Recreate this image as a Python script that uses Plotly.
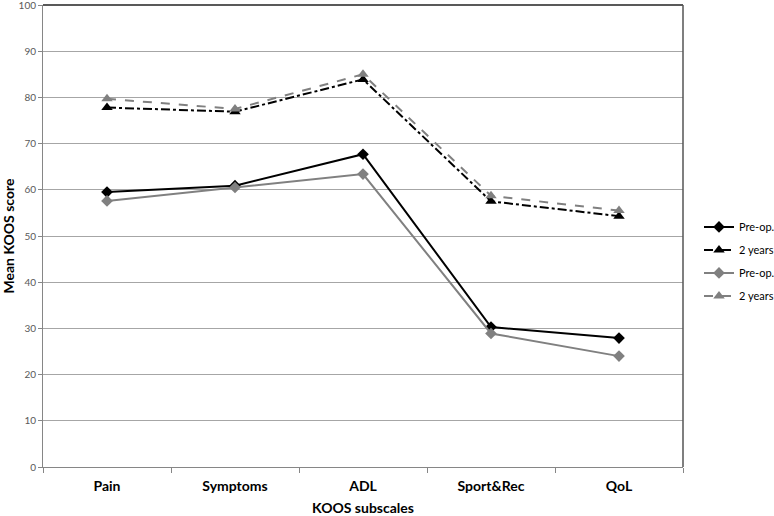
import plotly.graph_objects as go

categories = ["Pain", "Symptoms", "ADL", "Sport&Rec", "QoL"]
preop_a = [59.5, 60.9, 67.7, 30.3, 27.9]
twoyr_a = [77.8, 76.9, 83.9, 57.5, 54.3]
preop_b = [57.6, 60.5, 63.4, 28.9, 24.0]
twoyr_b = [79.7, 77.5, 85.0, 58.7, 55.5]
series_names = ["Pre-op.", "2 years", "Pre-op.", "2 years"]
y_ticks = list(range(0, 101, 10))

BLACK = "#000000"
GRAY = "#808080"
FONT = "Lato, Open Sans, sans-serif"

fig = go.Figure()
fig.add_trace(go.Scatter(x=categories, y=preop_a, name=series_names[0], mode="lines+markers",
                         legendgroup="a",
                         line=dict(color=BLACK, width=2),
                         marker=dict(symbol="diamond", size=9, color=BLACK)))
fig.add_trace(go.Scatter(x=categories, y=twoyr_a, name=series_names[1], mode="lines+markers",
                         legendgroup="b",
                         line=dict(color=BLACK, width=2, dash="dashdot"),
                         marker=dict(symbol="triangle-up", size=10, color=BLACK)))
fig.add_trace(go.Scatter(x=categories, y=preop_b, name=series_names[2], mode="lines+markers",
                         legendgroup="c",
                         line=dict(color=GRAY, width=2),
                         marker=dict(symbol="diamond", size=9, color=GRAY)))
fig.add_trace(go.Scatter(x=categories, y=twoyr_b, name=series_names[3], mode="lines+markers",
                         legendgroup="d",
                         line=dict(color=GRAY, width=2, dash="dash"),
                         marker=dict(symbol="triangle-up", size=10, color=GRAY)))

fig.update_layout(
    width=774, height=516,
    margin=dict(l=43, r=91, t=5, b=49, autoexpand=False),
    paper_bgcolor="white", plot_bgcolor="white",
    font=dict(family=FONT, color="#000000"),
    showlegend=True,
    legend=dict(x=1.025, xanchor="left", y=0.445, yanchor="middle",
                font=dict(size=11, color="#000000"), tracegroupgap=4,
                itemwidth=30, bgcolor="rgba(0,0,0,0)"),
    shapes=[
        dict(type="line", xref="x domain", yref="y domain", x0=0, x1=1, y0=1, y1=1,
             line=dict(color="#222222", width=1.5)),
        dict(type="line", xref="x domain", yref="y domain", x0=1, x1=1, y0=0, y1=1,
             line=dict(color="#555555", width=1.5)),
    ],
)
fig.update_xaxes(
    type="category", range=[-0.5, 4.5], automargin=False,
    showline=True, linecolor="#868686", linewidth=1, mirror=False,
    ticks="outside", tickson="boundaries", ticklen=5, tickcolor="#868686",
    showgrid=False, ticklabelstandoff=6,
    tickfont=dict(size=14, color="#000000", family=FONT, weight="bold"),
    title=dict(text="<b>KOOS subscales</b>", font=dict(size=14), standoff=14),
)
fig.update_yaxes(
    range=[0, 100], tickvals=y_ticks, automargin=False,
    ticklabeloverflow="allow",
    showline=True, linecolor="#868686", linewidth=1, mirror=False,
    ticks="outside", ticklen=4, tickcolor="#868686",
    showgrid=True, gridcolor="#a6a6a6", gridwidth=1,
    zeroline=False,
    tickfont=dict(size=10, color="#595959"),
    title=dict(text="<b>Mean KOOS score</b>", font=dict(size=14), standoff=8),
)

fig.write_html("out.html", config={"displayModeBar": False},
               post_script="document.body.style.margin='0';document.body.style.overflow='hidden';")
